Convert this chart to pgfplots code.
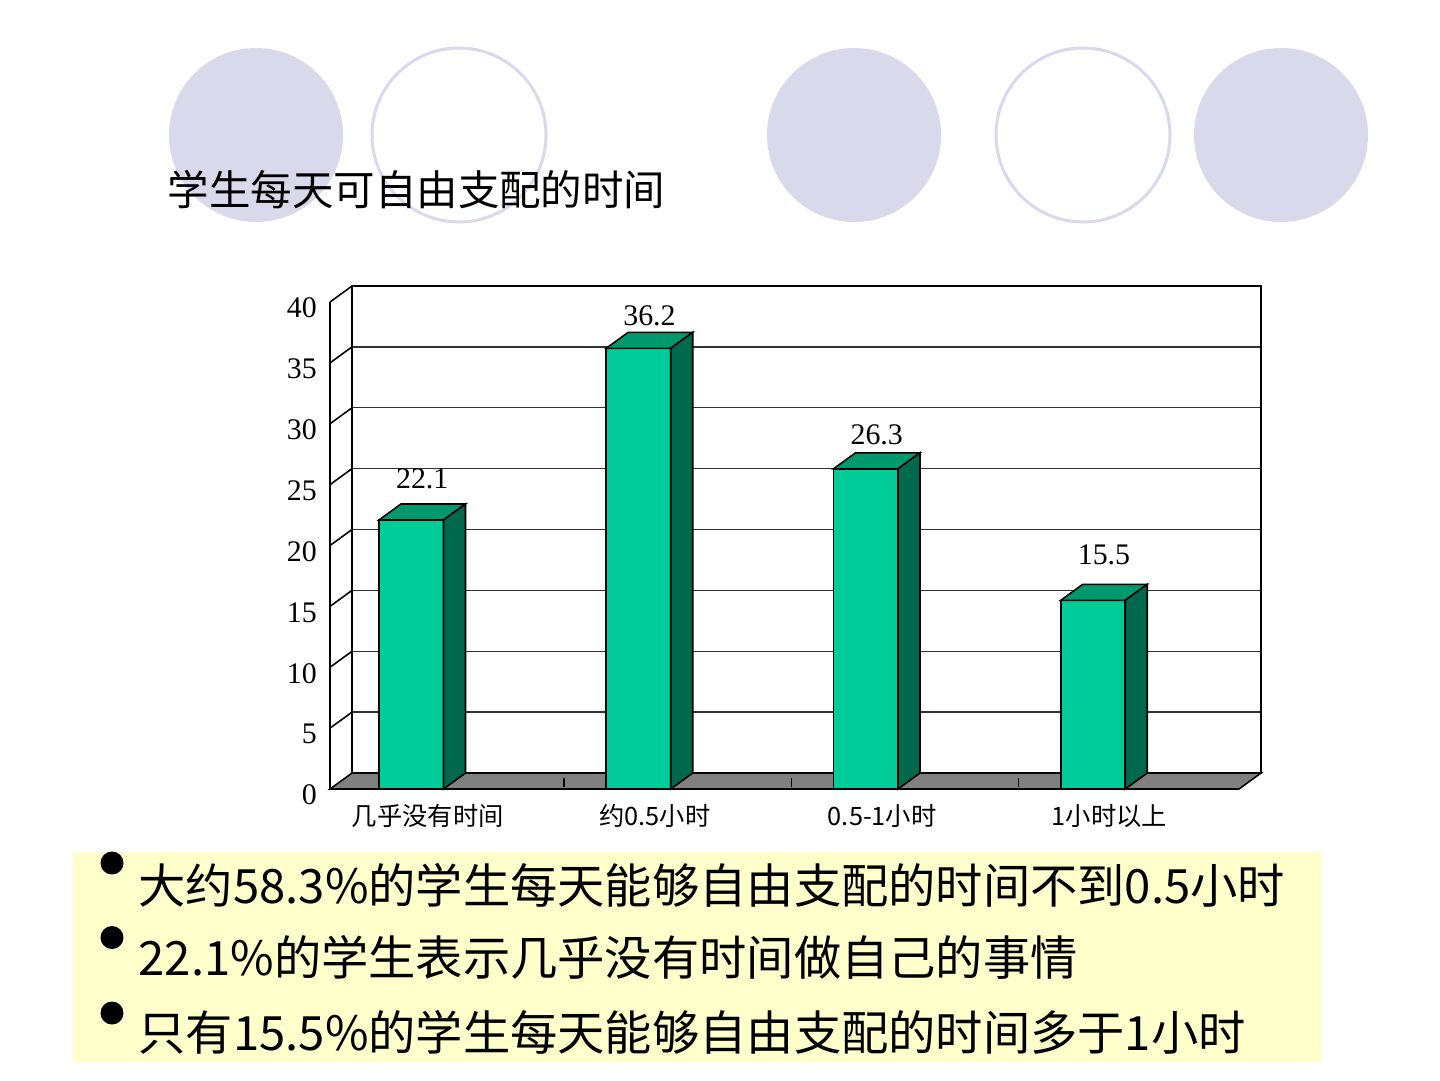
\documentclass[border=0pt]{standalone}
\usepackage{fontspec}
\setmainfont{Liberation Serif}
\newfontfamily\cjk{Noto Sans CJK SC}
\usepackage{pgfplots}
\usepackage{pgfplotstable}
\pgfplotsset{compat=1.18}
\definecolor{lav}{HTML}{D9D9EC}
\definecolor{barfront}{HTML}{00CC99}
\definecolor{bartop}{HTML}{00996E}
\definecolor{barside}{HTML}{00684C}
\definecolor{floorc}{HTML}{808080}
\definecolor{boxc}{HTML}{FFFFCC}

\pgfplotstableread{
x y ls
0.3575 22.1 4.15
1.3575 36.2 3.25
2.3575 26.3 3.4
3.3575 15.5 4.55
}\bardata

\begin{document}
\begin{tikzpicture}[x=0.1mm,y=0.1mm]
\fill[white] (0,0) rectangle (1440,1080);
\path[use as bounding box] (0,0) rectangle (1440,1080);
% decorative circles
\fill[lav] (256,945) circle[radius=8.7mm];
\fill[lav] (854,945) circle[radius=8.7mm];
\fill[lav] (1281,945) circle[radius=8.7mm];
\draw[lav, line width=0.3mm] (459,945) circle[radius=8.7mm];
\draw[lav, line width=0.3mm] (1083,945) circle[radius=8.7mm];
% title
\node[anchor=west, inner sep=0pt, font=\cjk\fontsize{11.8}{13}\selectfont] at (167,890) {学生每天可自由支配的时间};

% back wall
\begin{axis}[
  at={(35.2mm,30.7mm)}, anchor=south west, scale only axis,
  width=90.9mm, height=48.7mm,
  xmin=0, xmax=4, ymin=0, ymax=40,
  xtick=\empty, ytick={5,10,...,35}, yticklabels={},
  major tick length=0pt,
  ymajorgrids, grid style={black!80, line width=0.4pt},
  axis line style={black, line width=0.55pt},
]
\end{axis}

% front plane with floor and bars
\begin{axis}[
  at={(33.0mm,29.1mm)}, anchor=south west, scale only axis,
  width=90.9mm, height=48.7mm,
  xmin=0, xmax=4, ymin=0, ymax=40, clip=false,
  axis x line=bottom, axis y line=left,
  axis line style={-, black, line width=0.55pt},
  xtick={0.43,1.43,2.43,3.43},
  xticklabels={几乎没有时间, 约0.5小时, 0.5-1小时, 1小时以上},
  xtick style={draw=none},
  xticklabel style={font=\cjk\fontsize{7.2}{8}\selectfont, anchor=center, yshift=-1.9mm, inner sep=0pt},
  ytick={0,5,...,40},
  ytick style={draw=none},
  yticklabel style={font=\fontsize{8.5}{9}\selectfont, anchor=east, inner sep=0pt, xshift=-0.5mm, yshift=-0.6mm},
  /pgf/number format/assume math mode=true,
]
% floor
\addplot[fill=floorc, draw=black, line width=0.45pt] coordinates {(0,0) (4,0) (4.0968,1.314) (0.0968,1.314)} -- cycle;
\pgfplotsinvokeforeach{1.03,2.03,3.03}{\draw[black, line width=0.45pt] (axis cs:#1,0.15) -- (axis cs:#1,0.9);}
% tick connectors
\pgfplotsinvokeforeach{5,10,...,40}{\draw[black, line width=0.45pt] (axis cs:0,#1) -- ++(2.2mm,1.6mm);}
% bar fronts
\addplot[ybar, bar shift=0pt, bar width=0.2838, fill=barfront, draw=black, line width=0.45pt,
  nodes near coords, visualization depends on={\thisrow{ls}\as\lsh},
  nodes near coords style={anchor=center, font=\fontsize{8.5}{9}\selectfont, xshift=1.1mm, yshift={\lsh*1mm}, text=black}]
  table[x=x,y=y] {\bardata};
% bar tops
\addplot[fill=bartop, draw=black, line width=0.45pt] coordinates {(0.2156,22.1) (0.4994,22.1) (0.5962,23.414) (0.3124,23.414)} -- cycle;
\addplot[fill=bartop, draw=black, line width=0.45pt] coordinates {(1.2156,36.2) (1.4994,36.2) (1.5962,37.514) (1.3124,37.514)} -- cycle;
\addplot[fill=bartop, draw=black, line width=0.45pt] coordinates {(2.2156,26.3) (2.4994,26.3) (2.5962,27.614) (2.3124,27.614)} -- cycle;
\addplot[fill=bartop, draw=black, line width=0.45pt] coordinates {(3.2156,15.5) (3.4994,15.5) (3.5962,16.814) (3.3124,16.814)} -- cycle;
% bar sides
\addplot[fill=barside, draw=black, line width=0.45pt] coordinates {(0.4994,0) (0.5962,1.314) (0.5962,23.414) (0.4994,22.1)} -- cycle;
\addplot[fill=barside, draw=black, line width=0.45pt] coordinates {(1.4994,0) (1.5962,1.314) (1.5962,37.514) (1.4994,36.2)} -- cycle;
\addplot[fill=barside, draw=black, line width=0.45pt] coordinates {(2.4994,0) (2.5962,1.314) (2.5962,27.614) (2.4994,26.3)} -- cycle;
\addplot[fill=barside, draw=black, line width=0.45pt] coordinates {(3.4994,0) (3.5962,1.314) (3.5962,16.814) (3.4994,15.5)} -- cycle;
\end{axis}

% bullet box
\fill[boxc] (73,18) rectangle (1322,228);
\fill[black] (112,217) circle[radius=1.15mm];
\fill[black] (112,142.5) circle[radius=1.15mm];
\fill[black] (112,67) circle[radius=1.15mm];
\begin{scope}[every node/.style={anchor=west, inner sep=0pt, font=\cjk\fontsize{13.45}{14}\selectfont}]
\node at (138,195) {大约58.3\%的学生每天能够自由支配的时间不到0.5小时};
\node at (138,123) {22.1\%的学生表示几乎没有时间做自己的事情};
\node at (138,48) {只有15.5\%的学生每天能够自由支配的时间多于1小时};
\end{scope}
\end{tikzpicture}
\end{document}
